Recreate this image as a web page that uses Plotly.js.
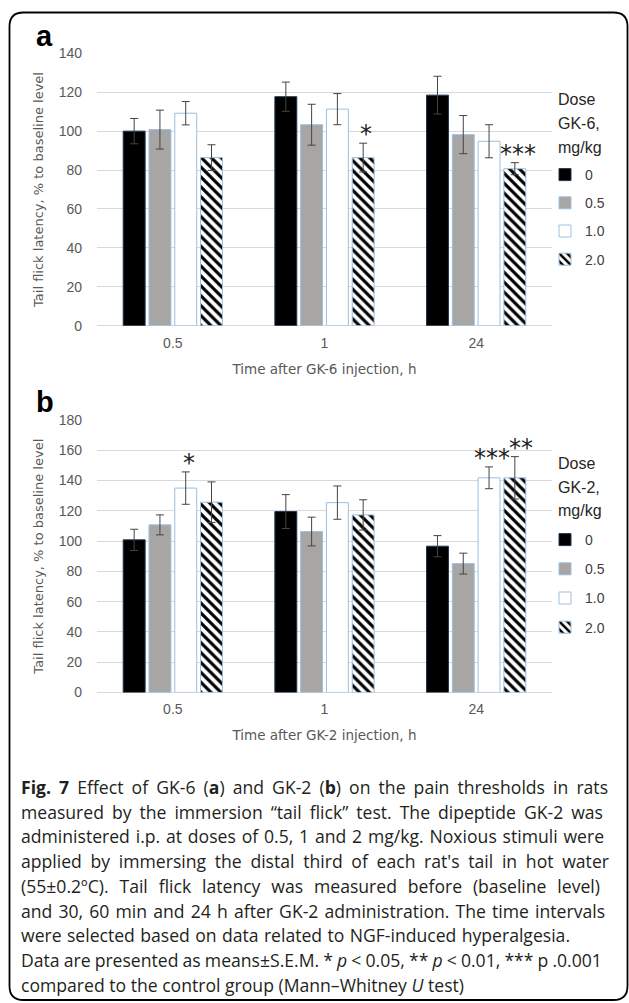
<!DOCTYPE html>
<html>
<head>
<meta charset="utf-8">
<script src="https://cdn.plot.ly/plotly-3.0.1.min.js"></script>
<style>
html,body{margin:0;padding:0;background:#fff;}
#chart{width:629px;height:1003px;}
</style>
</head>
<body>
<div id="chart"></div>
<script>
// ---------- data ----------
const timeCategories = ['0.5', '1', '24'];
const doseLabels = ['0', '0.5', '1.0', '2.0'];

// Panel a: GK-6 (mean, % to baseline)
const gk6Dose0   = [100.0, 117.7, 118.5];
const gk6Dose05  = [100.8, 103.3,  98.2];
const gk6Dose1   = [109.2, 111.3,  94.8];
const gk6Dose2   = [ 86.4,  86.4,  80.7];
// S.E.M.
const gk6Err0    = [6.5, 7.5, 9.7];
const gk6Err05   = [10.0, 10.5, 9.8];
const gk6Err1    = [6.0, 8.0, 8.5];
const gk6Err2    = [6.6, 7.4, 3.1];

// Panel b: GK-2
const gk2Dose0   = [100.8, 119.5,  96.6];
const gk2Dose05  = [110.7, 106.3,  85.1];
const gk2Dose1   = [135.0, 125.4, 141.8];
const gk2Dose2   = [125.7, 117.3, 141.8];
const gk2Err0    = [7.0, 11.2, 7.0];
const gk2Err05   = [6.6, 9.5, 6.9];
const gk2Err1    = [10.7, 11.0, 7.2];
const gk2Err2    = [13.4, 10.0, 14.0];

// significance marks: [time index, dose index, label]
const gk6Stars = [[1, 3, '*'], [2, 3, '***']];
const gk2Stars = [[0, 2, '*'], [2, 2, '***'], [2, 3, '**']];

const legendTitleA = ['Dose', 'GK-6,', 'mg/kg'];
const legendTitleB = ['Dose', 'GK-2,', 'mg/kg'];

const captionLines = [
  '<b>Fig. 7</b> Effect of GK-6 (<b>a</b>) and GK-2 (<b>b</b>) on the pain thresholds in rats',
  'measured by the immersion \u201Ctail flick\u201D test. The dipeptide GK-2 was',
  'administered i.p. at doses of 0.5, 1 and 2 mg/kg. Noxious stimuli were',
  'applied by immersing the distal third of each rat\'s tail in hot water',
  '(55\u00B10.2\u00BAC). Tail flick latency was measured before (baseline level)',
  'and 30, 60 min and 24 h after GK-2 administration. The time intervals',
  'were selected based on data related to NGF-induced hyperalgesia.',
  'Data are presented as means\u00B1S.E.M. * <i>p</i> &lt; 0.05, ** <i>p</i> &lt; 0.01, *** p .0.001',
  'compared to the control group (Mann\u2013Whitney <i>U</i> test)'
];
// right edge (px) of each justified caption line in the reference (null = last line, ragged)
const captionRightEdges = [606, 601, 602, 607, 598, 603, 568, 600, null];

// ---------- styling ----------
const W = 629, H = 1003;
const px = v => v / W;
const py = v => 1 - v / H;
const outline = '#9dbfe0';
const fills = ['#000000', '#a8a6a4', '#ffffff', '#ffffff'];
const BARGAP = 0.32, BARGROUPGAP = 0.15;

function makeTraces(series, errs, xa, ya, legendId) {
  return series.map((vals, i) => {
    const t = {
      type: 'bar',
      name: doseLabels[i],
      x: timeCategories,
      y: vals,
      xaxis: xa, yaxis: ya,
      legend: legendId,
      legendgroup: legendId + i,
      marker: {color: fills[i], line: {color: i === 0 ? '#1f3550' : outline, width: 1}},
      error_y: {type: 'data', array: errs[i], visible: true, color: '#444', thickness: 1, width: 4},
      hoverinfo: 'x+y'
    };
    if (i === 3) {
      t.marker.pattern = {shape: '\\', fgcolor: '#000', bgcolor: '#fff', size: 7, solidity: 0.45, fillmode: 'replace'};
    }
    return t;
  });
}

const dataA = makeTraces([gk6Dose0, gk6Dose05, gk6Dose1, gk6Dose2],
                         [gk6Err0, gk6Err05, gk6Err1, gk6Err2], 'x', 'y', 'legend');
const dataB = makeTraces([gk2Dose0, gk2Dose05, gk2Dose1, gk2Dose2],
                         [gk2Err0, gk2Err05, gk2Err1, gk2Err2], 'x2', 'y2', 'legend2');

function starAnns(stars, traces, xr, yr) {
  const slot = (1 - BARGAP) / 4;
  return stars.map(([ti, di, lab]) => ({
    xref: xr, yref: yr,
    x: ti + (di - 1.5) * slot,
    y: traces[di].y[ti] + traces[di].error_y.array[ti],
    text: lab, showarrow: false, yanchor: 'middle', yshift: 9,
    xshift: (lab === '**') ? 6 : 3,
    font: {family: 'DejaVu Sans, sans-serif', size: 24, color: '#222'}
  }));
}

const tickFont = {family: 'Liberation Sans, Arial, sans-serif', size: 14, color: '#595959'};
const xTitleFont = {family: 'DejaVu Sans, Verdana, sans-serif', size: 13.5, color: '#595959'};
const yTitleFont = {family: 'DejaVu Sans, Verdana, sans-serif', size: 13, color: '#595959'};
const gridColor = '#d9d9d9';

function xAxis(domainAnchor, titleText) {
  return {
    type: 'category', anchor: domainAnchor,
    domain: [px(97), px(552)], range: [-0.5, 2.5],
    showgrid: false, showline: false, zeroline: false, ticks: '',
    tickfont: tickFont, ticklabelstandoff: 7,
    title: {text: titleText, font: xTitleFont, standoff: 14},
    fixedrange: true
  };
}
function yAxis(domainAnchor, dom, maxV) {
  return {
    anchor: domainAnchor, domain: dom, range: [0, maxV], dtick: 20,
    showgrid: true, gridcolor: gridColor, gridwidth: 1,
    zeroline: true, zerolinecolor: gridColor, zerolinewidth: 1,
    showline: false, ticks: '', tickfont: tickFont, ticklabelstandoff: 14,
    title: {text: 'Tail flick latency, % to baseline level', font: yTitleFont, standoff: 12},
    fixedrange: true
  };
}

const L = 9.5, R = 627.5, T = 12.5, B = 1000, rad = 14;
const borderPath =
  `M ${px(L)},${py(T + rad)} Q ${px(L)},${py(T)} ${px(L + rad)},${py(T)} ` +
  `L ${px(R - rad)},${py(T)} Q ${px(R)},${py(T)} ${px(R)},${py(T + rad)} ` +
  `L ${px(R)},${py(B - rad)} Q ${px(R)},${py(B)} ${px(R - rad)},${py(B)} ` +
  `L ${px(L + rad)},${py(B)} Q ${px(L)},${py(B)} ${px(L)},${py(B - rad)} Z`;

const CAPTION_X = 19;
const captionFont = {family: 'Open Sans, sans-serif', size: 17.6, color: '#231f20'};
const captionAnns = captionLines.map((t, i) => ({
  xref: 'paper', yref: 'paper', x: px(CAPTION_X), y: py(787 + i * 24.7),
  xanchor: 'left', yanchor: 'middle', text: t, showarrow: false, align: 'left',
  font: captionFont
}));

const legTitleFont = {family: 'Liberation Sans, Arial, sans-serif', size: 16, color: '#262626'};
function legTitleAnns(lines, y0) {
  return lines.map((t, i) => ({
    xref: 'paper', yref: 'paper', x: px(556), y: py(y0 + i * 24),
    xanchor: 'left', yanchor: 'middle', text: t, showarrow: false, font: legTitleFont
  }));
}

const panelLetterFont = {family: 'Liberation Sans, Arial, sans-serif', size: 29, color: '#000'};

const legendBase = {
  xanchor: 'left', yanchor: 'top', bgcolor: 'rgba(0,0,0,0)',
  font: {family: 'Liberation Sans, Arial, sans-serif', size: 14, color: '#404040'},
  tracegroupgap: 7, itemwidth: 30
};

const baseAnns = [
  {xref: 'paper', yref: 'paper', x: px(34), y: py(36), xanchor: 'left', yanchor: 'middle',
   text: '<b>a</b>', showarrow: false, font: panelLetterFont},
  {xref: 'paper', yref: 'paper', x: px(34), y: py(402), xanchor: 'left', yanchor: 'middle',
   text: '<b>b</b>', showarrow: false, font: panelLetterFont}
].concat(starAnns(gk6Stars, dataA, 'x', 'y'))
 .concat(starAnns(gk2Stars, dataB, 'x2', 'y2'))
 .concat(legTitleAnns(legendTitleA, 100))
 .concat(legTitleAnns(legendTitleB, 463));
const captionStart = baseAnns.length;

const layout = {
  width: W, height: H,
  margin: {l: 0, r: 0, t: 0, b: 0},
  paper_bgcolor: '#fff', plot_bgcolor: 'rgba(0,0,0,0)',
  barmode: 'group', bargap: BARGAP, bargroupgap: BARGROUPGAP,
  showlegend: true,
  xaxis: xAxis('y', 'Time after GK-6 injection, h'),
  yaxis: yAxis('x', [py(325.7), py(53.3)], 140),
  xaxis2: xAxis('y2', 'Time after GK-2 injection, h'),
  yaxis2: yAxis('x2', [py(692.4), py(420)], 180),
  legend: Object.assign({}, legendBase, {x: px(545), y: py(159)}),
  legend2: Object.assign({}, legendBase, {x: px(545), y: py(524), tracegroupgap: 8}),
  shapes: [{type: 'path', xref: 'paper', yref: 'paper', path: borderPath,
            line: {color: '#000', width: 1.8}, fillcolor: 'rgba(0,0,0,0)'}],
  annotations: baseAnns.concat(captionAnns)
};

Plotly.newPlot('chart', dataA.concat(dataB), layout, {displayModeBar: false, staticPlot: true})
  .then(gd => {
    // justify caption lines (word spacing) like the typeset reference
    captionLines.forEach((_, i) => {
      if (captionRightEdges[i] == null) return;
      const g = gd.querySelector('.annotation[data-index="' + (captionStart + i) + '"]');
      if (!g) return;
      const txt = g.querySelector('text.annotation-text');
      if (!txt) return;
      const spaces = (txt.textContent.match(/ /g) || []).length;
      if (!spaces) return;
      const box = txt.getBoundingClientRect();
      const extra = (captionRightEdges[i] - CAPTION_X) - box.width;
      const ws = Math.max(-1.5, extra / spaces);
      txt.setAttribute('word-spacing', ws.toFixed(2) + 'px');
      txt.style.wordSpacing = ws.toFixed(2) + 'px';
    });
  });
</script>
</body>
</html>
